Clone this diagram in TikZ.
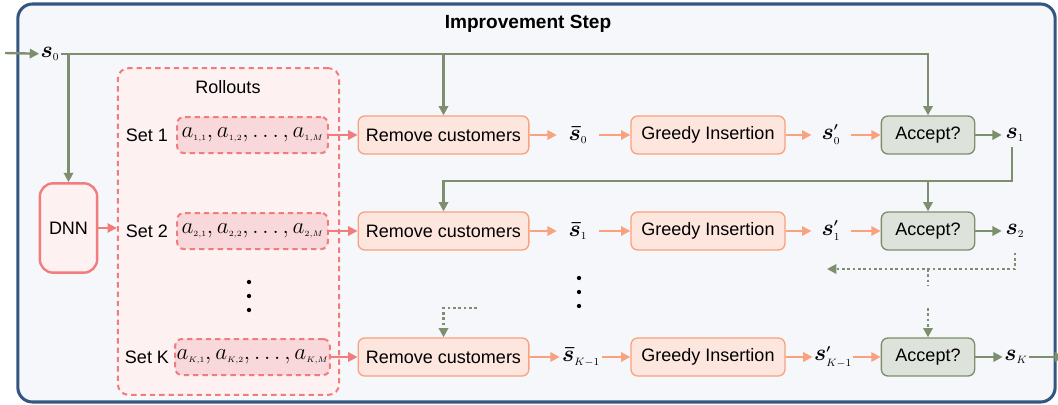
\documentclass[tikz,border=0pt]{standalone}
\usepackage{amsmath}
\usepackage{amssymb}
\usepackage{fontspec}
\setmainfont{Liberation Sans}
\usepackage{tikz}
\usetikzlibrary{arrows.meta,positioning}
\DeclareMathSizes{17}{17}{8.5}{6}
\DeclareMathSizes{16}{16}{6.5}{5}

\definecolor{navyB}{HTML}{345680}
\definecolor{bgF}{HTML}{F5F7FA}
\definecolor{greenL}{HTML}{7D8F6E}
\definecolor{greenF}{HTML}{DDE2DA}
\definecolor{pinkL}{HTML}{F07C7C}
\definecolor{pinkF}{HTML}{FDF1F1}
\definecolor{pinkF2}{HTML}{F9D8DB}
\definecolor{salmonL}{HTML}{F9A27D}
\definecolor{salmonF}{HTML}{FDE6DE}

\begin{document}
\begin{tikzpicture}
[x=0.75pt,y=-0.75pt,>={Triangle[length=7pt,width=7pt]}]
\tikzset{
	stepbox/.style = {draw=salmonL, fill=salmonF, line width=1pt, rounded corners=5pt, minimum height=28.5pt, font=\fontsize{13.5}{15}\selectfont},
	acceptbox/.style = {draw=greenL, fill=greenF, line width=1pt, rounded corners=5pt, minimum width=70pt, minimum height=28.5pt, font=\fontsize{13.5}{15}\selectfont},
	setbox/.style = {draw=pinkL, fill=pinkF2, line width=1.5pt, dash pattern=on 4pt off 3pt, rounded corners=5pt, minimum width=113pt, minimum height=27pt, inner sep=1pt, font=\fontsize{16}{18}\selectfont},
	setlabel/.style = {font=\fontsize{13.5}{15}\selectfont},
	state/.style = {inner sep=1pt, font=\fontsize{17}{20}\selectfont},
	gline/.style = {draw=greenL, line width=1.8pt},
	garrow/.style = {gline, ->},
	gdots/.style = {gline, dash pattern=on 2pt off 2pt},
	parrow/.style = {draw=pinkL, line width=1.5pt, ->},
	sarrow/.style = {draw=salmonL, line width=1.5pt, ->}
}
\useasboundingbox (0,0) rectangle (1058,404);

% frame
\node (outer) [draw=navyB, fill=bgF, line width=2.3pt, rounded corners=11pt, minimum width=778pt, minimum height=298.5pt] at (536.5,203) {};
\node (title) [font=\bfseries\fontsize{14.3}{16}\selectfont] at (528,24) {Improvement Step};

% rollouts and network
\node (roll) [draw=pinkL, fill=pinkF, line width=1.5pt, dash pattern=on 4pt off 3pt, rounded corners=8pt, minimum width=166pt, minimum height=245pt] at (228.5,231.5) {};
\node (rolltitle) [setlabel] at (228,87) {Rollouts};
\node (dnn) [draw=pinkL, fill=pinkF, line width=1.8pt, rounded corners=10pt, minimum width=43pt, minimum height=67pt, font=\fontsize{13.5}{15}\selectfont] at (68.5,228) {DNN};

% row 1
\node (set1) [setlabel] at (147,135) {Set 1};
\node (a1) [setbox] at (252.5,135) {$a_{1,1}, a_{1,2}, \ldots, a_{1,M}$};
\node (rem1) [stepbox, minimum width=128pt] at (443.5,135) {Remove customers};
\node (sb0) [state, minimum width=31.5pt] at (578,135) {$\boldsymbol{\bar{s}}_0$};
\node (gi1) [stepbox, minimum width=115.5pt] at (708,135) {Greedy Insertion};
\node (sp0) [state, minimum width=29pt] at (831,135) {$\boldsymbol{s}^{\boldsymbol{\prime}}_0$};
\node (acc1) [acceptbox] at (928,135) {Accept?};
\node (s1) [state, minimum width=19.5pt] at (1015,135) {$\boldsymbol{s}_1$};

% row 2
\node (set2) [setlabel] at (147,231) {Set 2};
\node (a2) [setbox] at (252.5,231) {$a_{2,1}, a_{2,2}, \ldots, a_{2,M}$};
\node (rem2) [stepbox, minimum width=128pt] at (443.5,231) {Remove customers};
\node (sb1) [state, minimum width=31.5pt] at (578,231) {$\boldsymbol{\bar{s}}_1$};
\node (gi2) [stepbox, minimum width=115.5pt] at (708,231) {Greedy Insertion};
\node (sp1) [state, minimum width=29pt] at (831,231) {$\boldsymbol{s}^{\boldsymbol{\prime}}_1$};
\node (acc2) [acceptbox] at (928,231) {Accept?};
\node (s2) [state, minimum width=19.5pt] at (1015,231) {$\boldsymbol{s}_2$};

% row K
\node (setK) [setlabel] at (147,357) {Set K};
\node (aK) [setbox] at (252.5,357) {$a_{K,1}, a_{K,2}, \ldots, a_{K,M}$};
\node (remK) [stepbox, minimum width=128pt] at (443.5,357) {Remove customers};
\node (sbK) [state, minimum width=31.5pt] at (581,357) {$\boldsymbol{\bar{s}}_{K-1}$};
\node (giK) [stepbox, minimum width=115.5pt] at (708,357) {Greedy Insertion};
\node (spK) [state, minimum width=29pt] at (833,357) {$\boldsymbol{s}^{\boldsymbol{\prime}}_{K-1}$};
\node (accK) [acceptbox] at (928,357) {Accept?};
\node (sK) [state, minimum width=19.5pt] at (1016,357) {$\boldsymbol{s}_K$};

% dots
\foreach \dy in {282,296,310}
	\fill (249,\dy) circle (1.6pt);
\foreach \dy in {278,292,306}
	\fill (579,\dy) circle (1.6pt);

% input state
\coordinate (in) at (5,53);
\node (s0) [state] at (50,54) {$\boldsymbol{s}_0$};
\draw [garrow] (in) -- (s0);
\draw [garrow] (s0) -- (s0 -| acc1) -- (acc1);
\draw [garrow] (s0 -| rem1) -- (rem1);
\draw [garrow] (s0 -| dnn) -- (dnn);
\draw [parrow] (dnn) -- (dnn -| roll.west);

% pipeline arrows
\draw [parrow] (a1) -- (rem1);
\draw [sarrow] (rem1) -- (sb0);
\draw [sarrow] (sb0) -- (gi1);
\draw [sarrow] (gi1) -- (sp0);
\draw [sarrow] (sp0) -- (acc1);
\draw [garrow] (acc1) -- (s1);

\draw [parrow] (a2) -- (rem2);
\draw [sarrow] (rem2) -- (sb1);
\draw [sarrow] (sb1) -- (gi2);
\draw [sarrow] (gi2) -- (sp1);
\draw [sarrow] (sp1) -- (acc2);
\draw [garrow] (acc2) -- (s2);

\draw [parrow] (aK) -- (remK);
\draw [sarrow] (remK) -- (sbK);
\draw [sarrow] (sbK) -- (giK);
\draw [sarrow] (giK) -- (spK);
\draw [sarrow] (spK) -- (accK);
\draw [garrow] (accK) -- (sK);

% feedback s1
\coordinate (turn1) at (1012,181);
\draw [garrow] ([yshift=-3pt]s1.south -| turn1) -- (turn1) -| (rem2);
\draw [garrow] (acc2 |- turn1) -- (acc2);

% skipped rows
\coordinate (skipR) at (827,269);
\coordinate (gapA) at (928,286);
\coordinate (gapB) at (928,308);
\coordinate (skipL) at (477,308);
\draw [gdots, ->] ([yshift=-10pt]s2.south) |- (skipR);
\draw [gdots] (acc2 |- skipR) -- (gapA);
\draw [gdots, ->] (gapB) -- (accK);
\draw [gdots, ->] (skipL) -| (remK);

% output
\coordinate (out) at (1064,357);
\draw [garrow] (sK) -- (out);
\end{tikzpicture}
\end{document}
